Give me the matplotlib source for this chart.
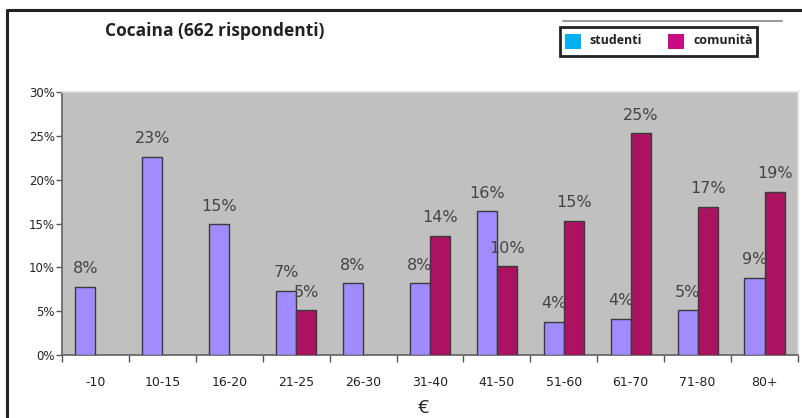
import matplotlib
matplotlib.use("Agg")
import matplotlib.pyplot as plt
from matplotlib.patches import Rectangle
from matplotlib.lines import Line2D
from matplotlib import font_manager
import numpy as np

# Spending ranges (EUR) and share of respondents (%)
categories = ["-10", "10-15", "16-20", "21-25", "26-30", "31-40",
              "41-50", "51-60", "61-70", "71-80", "80+"]
studenti = [7.8, 22.6, 14.9, 7.3, 8.2, 8.2, 16.4, 3.8, 4.1, 5.1, 8.8]
comunita = [None, None, None, 5.1, None, 13.6, 10.1, 15.3, 25.3, 16.9, 18.6]
yticks = [0, 5, 10, 15, 20, 25, 30]

W, H = 802, 418
fig = plt.figure(figsize=(W / 100, H / 100), dpi=100)
fig.patch.set_facecolor("white")


def pick(*names):
    have = {f.name for f in font_manager.fontManager.ttflist}
    for n in names:
        if n in have:
            return n
    return "DejaVu Sans"


tick_font = pick("Liberation Sans Narrow", "DejaVu Sans")
title_font = pick("Open Sans", "DejaVu Sans")

ax = fig.add_axes([62 / W, 1 - 355 / H, (798 - 62) / W, (355 - 92) / H])
ax.set_facecolor("#c0c0c0")

x = np.arange(len(categories))
bw = 0.3
stud_col = "#a08cff"
com_col = "#ab1260"
edge = "#3a3a3a"

ax.bar(x - bw / 2, studenti, width=bw, color=stud_col, edgecolor=edge,
       linewidth=1.0, zorder=3)
cx = [i for i, v in enumerate(comunita) if v is not None]
cv = [v for v in comunita if v is not None]
ax.bar(np.array(cx) + bw / 2, cv, width=bw, color=com_col, edgecolor=edge,
       linewidth=1.0, zorder=3)

lab_kw = dict(textcoords="offset points", xytext=(0, 9.8), ha="center",
              va="baseline", fontsize=11.5, color="#444444", zorder=5,
              family="DejaVu Sans")
for i, v in enumerate(studenti):
    ax.annotate(f"{round(v):d}%", (i - bw / 2, v), **lab_kw)
for i, v in zip(cx, cv):
    ax.annotate(f"{round(v):d}%", (i + bw / 2, v), **lab_kw)

ax.set_xlim(-0.5, len(categories) - 0.5)
ax.set_ylim(0, 30)
ax.set_yticks(yticks)
ax.set_yticklabels([f"{t}%" for t in yticks], fontsize=8.5, color="#222222")
ax.tick_params(axis="y", length=4, width=1, color="#555555", pad=1)

ax.set_xticks(x)
ax.set_xticklabels(categories, fontsize=9, family=tick_font, color="#222222")
ax.tick_params(axis="x", which="major", length=0, pad=15)
ax.set_xticks(np.arange(-0.5, len(categories) + 0.5, 1), minor=True)
ax.tick_params(axis="x", which="minor", length=5, width=1, color="#555555")

for s in ("left", "bottom"):
    ax.spines[s].set_color("#6a6a6a")
    ax.spines[s].set_linewidth(1.3)
for s in ("top", "right"):
    ax.spines[s].set_color("#dcdcdc")
    ax.spines[s].set_linewidth(1.3)

# Title and axis caption
fig.text(105 / W, 1 - 31 / H, "Cocaina (662 rispondenti)", ha="left",
         va="center", fontsize=12.5, fontweight="bold", family=title_font,
         color="#222222")
fig.text(423 / W, 1 - 408 / H, "€", ha="center", va="center", fontsize=14,
         family=title_font, color="#222222")

# Outer frame
fig.add_artist(Line2D([7 / W, 7 / W, 1.0], [0.0, 1 - 10 / H, 1 - 10 / H],
                      transform=fig.transFigure, color="#222222", lw=2.2))

# Legend box
fig.add_artist(Line2D([563 / W, 782 / W], [1 - 21 / H, 1 - 21 / H],
                      transform=fig.transFigure, color="#9a9a9a", lw=1.5,
                      solid_capstyle="round"))
fig.add_artist(Rectangle((560 / W, 1 - 56 / H), 197 / W, 29 / H,
                         transform=fig.transFigure, facecolor="white",
                         edgecolor="#222222", lw=2.0))
fig.add_artist(Rectangle((565 / W, 1 - 49 / H), 16 / W, 15 / H,
                         transform=fig.transFigure, facecolor="#00b0f0",
                         edgecolor="none"))
fig.add_artist(Rectangle((668 / W, 1 - 49 / H), 16 / W, 15 / H,
                         transform=fig.transFigure, facecolor="#c80c84",
                         edgecolor="none"))
fig.text(589 / W, 1 - 40 / H, "studenti", ha="left", va="center",
         fontsize=9, fontweight="bold", family=title_font, color="#222222")
fig.text(693 / W, 1 - 40 / H, "comunità", ha="left", va="center",
         fontsize=9, fontweight="bold", family=title_font, color="#222222")

fig.savefig("out.png", dpi=100)
